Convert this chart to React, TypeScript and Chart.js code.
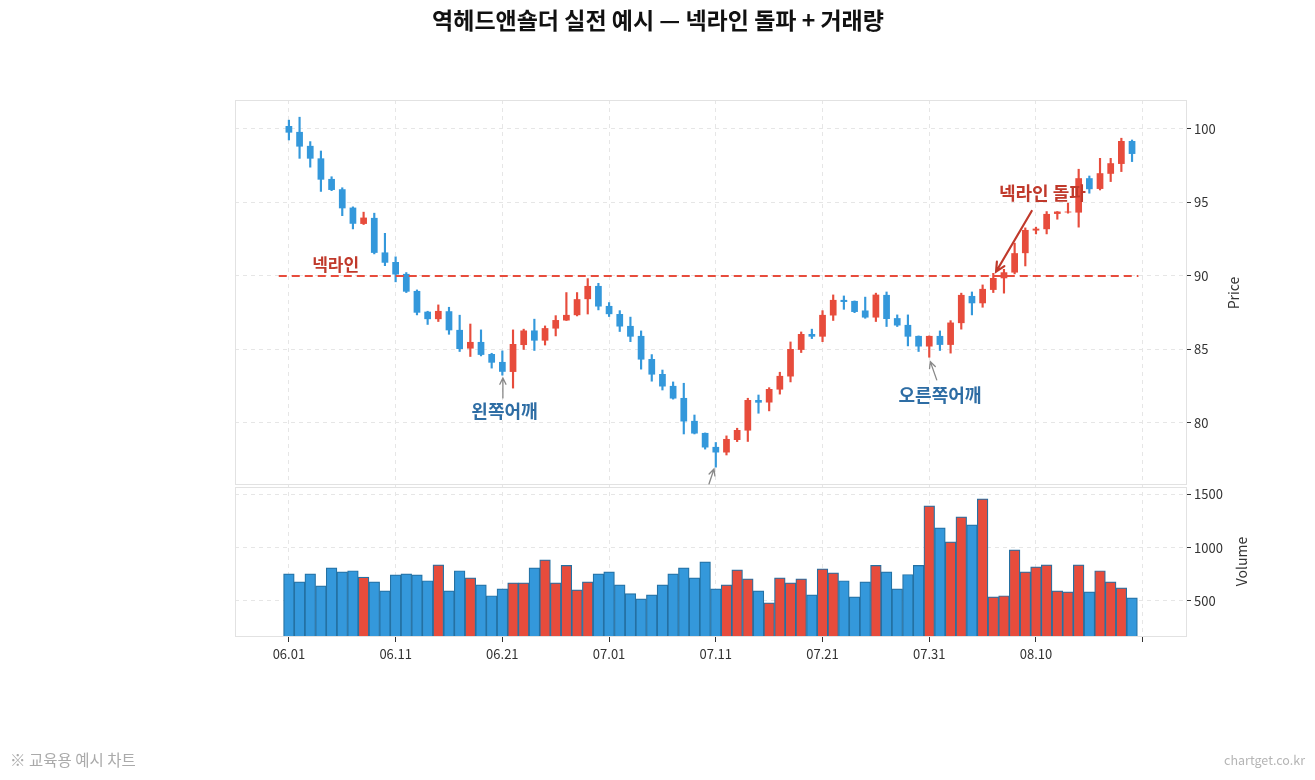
import React, { useEffect, useRef } from 'react';
import { Chart, registerables } from 'chart.js';

Chart.register(...registerables);

// ---------- data ----------
const DATE_TICKS = [0, 10, 20, 30, 40, 50, 60, 70, 80];
const DATE_LABELS = ['06.01', '06.11', '06.21', '07.01', '07.11', '07.21', '07.31', '08.10', ''];

const OPEN = [
  100.2, 99.8, 98.85, 98.0, 96.6, 95.9, 94.65, 93.54, 93.95, 91.6,
  90.95, 90.14, 88.98, 87.57, 87.06, 87.6, 86.33, 85.06, 85.51, 84.69,
  84.15, 83.47, 85.3, 86.29, 85.6, 86.42, 86.97, 87.33, 88.42, 89.32,
  87.96, 87.41, 86.6, 85.92, 84.35, 83.33, 82.52, 81.7, 80.14, 79.32,
  78.37, 77.99, 78.84, 79.48, 81.56, 81.39, 82.27, 83.16, 84.97, 86.05,
  85.87, 87.31, 88.37, 88.3, 87.65, 87.17, 88.71, 87.13, 86.67, 85.92,
  85.2, 85.92, 85.31, 86.79, 88.64, 88.14, 89.05, 89.84, 90.23, 91.55,
  93.09, 93.18, 94.22, 94.32, 94.31, 96.65, 95.92, 96.95, 97.62, 99.18,
];
const HIGH = [
  100.6, 100.8, 99.14, 98.5, 96.75, 96.0, 94.7, 94.34, 94.27, 92.9,
  91.3, 90.23, 89.05, 87.6, 88.03, 87.87, 87.33, 86.73, 86.33, 84.74,
  84.9, 86.33, 86.38, 87.06, 86.6, 87.3, 88.87, 88.87, 89.82, 89.5,
  88.19, 87.64, 87.2, 86.26, 84.65, 83.6, 82.79, 82.7, 80.54, 79.32,
  78.67, 79.12, 79.64, 81.68, 81.9, 82.4, 83.45, 85.51, 86.19, 86.38,
  87.64, 88.71, 88.64, 88.3, 88.56, 88.83, 88.91, 87.35, 87.35, 85.92,
  85.92, 86.26, 86.96, 88.83, 88.91, 89.39, 90.18, 90.45, 92.23, 93.27,
  93.32, 94.38, 94.38, 94.95, 97.26, 96.8, 98.0, 98.0, 99.37, 99.25,
];
const LOW = [
  99.25, 98.0, 97.4, 95.75, 95.8, 94.1, 93.2, 93.5, 91.5, 90.7,
  89.6, 88.87, 87.35, 86.7, 86.9, 86.03, 84.86, 84.52, 84.56, 83.73,
  83.25, 82.37, 85.0, 84.93, 85.3, 85.92, 86.97, 87.28, 87.41, 87.69,
  87.24, 86.22, 85.53, 83.66, 82.84, 82.24, 81.62, 79.25, 79.25, 78.22,
  76.99, 77.82, 78.73, 78.74, 80.66, 80.82, 81.96, 82.79, 84.79, 85.74,
  85.53, 86.97, 87.73, 87.5, 87.12, 86.9, 86.56, 86.56, 85.24, 84.86,
  84.47, 84.93, 84.75, 86.38, 87.35, 87.87, 88.87, 88.83, 90.14, 90.68,
  92.86, 92.86, 93.86, 94.27, 93.32, 95.63, 95.85, 96.42, 97.1, 97.78,
];
const CLOSE = [
  99.75, 98.8, 97.98, 96.55, 95.85, 94.6, 93.55, 93.97, 91.57, 90.9,
  90.1, 88.93, 87.5, 87.06, 87.62, 86.3, 85.03, 85.51, 84.63, 84.1,
  83.48, 85.37, 86.29, 85.6, 86.45, 87.0, 87.35, 88.42, 89.32, 87.92,
  87.4, 86.56, 85.87, 84.31, 83.29, 82.48, 81.66, 80.1, 79.28, 78.33,
  77.99, 78.91, 79.52, 81.56, 81.38, 82.31, 83.2, 85.03, 86.05, 85.87,
  87.35, 88.37, 88.23, 87.55, 87.17, 88.73, 87.07, 86.63, 85.87, 85.2,
  85.92, 85.31, 86.83, 88.71, 88.14, 89.12, 89.86, 90.25, 91.55, 93.13,
  93.22, 94.22, 94.38, 94.38, 96.65, 95.9, 96.99, 97.67, 99.18, 98.3,
];
const VOLUME = [
  754, 679, 754, 641, 811, 773, 783, 723, 679, 594,
  744, 754, 744, 689, 839, 594, 783, 717, 651, 548,
  613, 670, 670, 811, 886, 670, 833, 604, 679, 754,
  773, 651, 569, 519, 557, 651, 754, 811, 717, 867,
  613, 651, 792, 707, 594, 482, 717, 670, 707, 557,
  801, 764, 689, 538, 679, 833, 773, 613, 748, 833,
  1393, 1187, 1055, 1290, 1215, 1459, 538, 548, 980, 773,
  820, 839, 594, 585, 839, 585, 783, 679, 623, 529,
];
const PRICE_TICKS = [80, 85, 90, 95, 100];
const VOLUME_TICKS = [500, 1000, 1500];
const NECKLINE_PRICE = 90;
const NECKLINE_SPAN = [-0.95, 79.6];

// ---------- styles / layout ----------
const UP = '#e74c3c';
const DOWN = '#3498db';
const FONT = "'Noto Sans CJK KR', 'Noto Sans', sans-serif";
const W = 1315;
const H = 780;
const X_RANGE = [-5.05, 84.15];
const PRICE_RANGE = [75.71, 101.97];
const VOLUME_RANGE = [160, 1580];

type Note = {
  text: string; x: number; y: number; color: string; size: number;
  arrow?: { from: [number, number]; to: [number, number]; color: string; width: number };
};
const NOTES: Note[] = [
  { text: '넥라인', x: 4.38, y: 90.75, color: '#c0392b', size: 17 },
  { text: '왼쪽어깨', x: 20.2, y: 80.77, color: '#2e6da4', size: 18,
    arrow: { from: [20.05, 81.7], to: [20.05, 83.06], color: '#888888', width: 1.3 } },
  { text: '오른쪽어깨', x: 61.0, y: 81.9, color: '#2e6da4', size: 18,
    arrow: { from: [60.7, 82.93], to: [60.1, 84.17], color: '#888888', width: 1.3 } },
  { text: '', x: 39.5, y: 75.0, color: '#2e6da4', size: 16,
    arrow: { from: [39.36, 75.85], to: [39.83, 76.87], color: '#888888', width: 1.3 } },
  { text: '넥라인 돌파', x: 70.6, y: 95.63, color: '#c0392b', size: 18,
    arrow: { from: [69.6, 94.42], to: [66.26, 90.29], color: '#c0392b', width: 2.2 } },
];

function drawArrow(ctx: CanvasRenderingContext2D, x1: number, y1: number, x2: number, y2: number, color: string, width: number) {
  const ang = Math.atan2(y2 - y1, x2 - x1);
  const head = width > 2 ? 10 : 7;
  ctx.save();
  ctx.strokeStyle = color;
  ctx.lineWidth = width;
  ctx.lineCap = 'round';
  ctx.beginPath();
  ctx.moveTo(x1, y1);
  ctx.lineTo(x2, y2);
  ctx.moveTo(x2 - head * Math.cos(ang - 0.45), y2 - head * Math.sin(ang - 0.45));
  ctx.lineTo(x2, y2);
  ctx.lineTo(x2 - head * Math.cos(ang + 0.45), y2 - head * Math.sin(ang + 0.45));
  ctx.stroke();
  ctx.restore();
}

const decorPlugin = {
  id: 'decor',
  afterDatasetsDraw(chart: any) {
    const ctx: CanvasRenderingContext2D = chart.ctx;
    const x = chart.scales.x;
    const yP = chart.scales.yP;
    const yV = chart.scales.yV;
    const area = chart.chartArea;
    // panel borders
    ctx.save();
    ctx.strokeStyle = '#e2e2e2';
    ctx.lineWidth = 1;
    ctx.strokeRect(area.left + 0.5, yP.top + 0.5, area.right - area.left - 1, yP.bottom - yP.top - 2);
    ctx.strokeRect(area.left + 0.5, yV.top + 1.5, area.right - area.left - 1, yV.bottom - yV.top - 2);
    ctx.restore();
    // annotations (clipped to price panel)
    ctx.save();
    ctx.beginPath();
    ctx.rect(area.left, yP.top, area.right - area.left, yP.bottom - yP.top - 1);
    ctx.clip();
    for (const n of NOTES) {
      if (n.arrow) {
        drawArrow(ctx,
          x.getPixelForValue(n.arrow.from[0]), yP.getPixelForValue(n.arrow.from[1]),
          x.getPixelForValue(n.arrow.to[0]), yP.getPixelForValue(n.arrow.to[1]),
          n.arrow.color, n.arrow.width);
      }
      if (n.text) {
        ctx.font = `bold ${n.size}px ${FONT}`;
        ctx.fillStyle = n.color;
        ctx.textAlign = 'center';
        ctx.textBaseline = 'middle';
        ctx.fillText(n.text, x.getPixelForValue(n.x), yP.getPixelForValue(n.y));
      }
    }
    ctx.restore();
  },
  afterDraw(chart: any) {
    const ctx: CanvasRenderingContext2D = chart.ctx;
    const yP = chart.scales.yP;
    const yV = chart.scales.yV;
    ctx.save();
    // title
    ctx.font = `bold 23px ${FONT}`;
    ctx.fillStyle = '#111111';
    ctx.textAlign = 'center';
    ctx.textBaseline = 'middle';
    ctx.fillText('역헤드앤숄더 실전 예시 — 넥라인 돌파 + 거래량', 658, 20);
    // axis titles
    ctx.font = `14px ${FONT}`;
    ctx.fillStyle = '#333333';
    ctx.save();
    ctx.translate(1234, (yP.top + yP.bottom) / 2);
    ctx.rotate(-Math.PI / 2);
    ctx.fillText('Price', 0, 0);
    ctx.restore();
    ctx.save();
    ctx.translate(1242, (yV.top + yV.bottom) / 2);
    ctx.rotate(-Math.PI / 2);
    ctx.fillText('Volume', 0, 0);
    ctx.restore();
    // footer
    ctx.font = `15.5px ${FONT}`;
    ctx.fillStyle = '#aaaaaa';
    ctx.textAlign = 'left';
    ctx.fillText('※ 교육용 예시 차트', 10, 760);
    ctx.font = `12.5px ${FONT}`;
    ctx.fillStyle = '#b5b5b5';
    ctx.textAlign = 'right';
    ctx.fillText('chartget.co.kr', 1305, 760);
    ctx.restore();
  },
};

export default function App() {
  const ref = useRef<HTMLCanvasElement | null>(null);

  useEffect(() => {
    if (!ref.current) return;
    const idx = OPEN.map((_, i) => i);
    const colors = idx.map((i) => (CLOSE[i] >= OPEN[i] ? UP : DOWN));
    const gridColor = '#e6e6e6';
    const tickFont = { family: FONT, size: 13 };

    const chart = new Chart(ref.current, {
      type: 'bar',
      data: {
        datasets: [
          {
            type: 'line',
            label: 'neckline',
            data: [
              { x: NECKLINE_SPAN[0], y: NECKLINE_PRICE },
              { x: NECKLINE_SPAN[1], y: NECKLINE_PRICE },
            ],
            borderColor: '#e74c3c',
            borderWidth: 2,
            borderDash: [8, 5],
            pointRadius: 0,
            xAxisID: 'x',
            yAxisID: 'yP',
            order: 1,
          } as any,
          {
            type: 'bar',
            label: 'wick',
            data: idx.map((i) => ({ x: i, y: [LOW[i], HIGH[i]] })),
            backgroundColor: colors,
            borderWidth: 0,
            barThickness: 1.5,
            grouped: false,
            xAxisID: 'x',
            yAxisID: 'yP',
            order: 3,
          } as any,
          {
            type: 'bar',
            label: 'body',
            data: idx.map((i) => ({ x: i, y: [OPEN[i], CLOSE[i]] })),
            backgroundColor: colors,
            borderWidth: 0,
            barPercentage: 0.63,
            categoryPercentage: 1,
            grouped: false,
            xAxisID: 'x',
            yAxisID: 'yP',
            order: 2,
          } as any,
          {
            type: 'bar',
            label: 'volume',
            data: idx.map((i) => ({ x: i, y: VOLUME[i] })),
            backgroundColor: colors,
            borderColor: '#2471a3',
            borderWidth: 1.2,
            borderSkipped: false,
            barPercentage: 1,
            categoryPercentage: 1,
            grouped: false,
            base: VOLUME_RANGE[0],
            clip: 0,
            xAxisID: 'x',
            yAxisID: 'yV',
            order: 4,
          } as any,
        ],
      },
      options: {
        responsive: false,
        animation: false,
        events: [],
        layout: { padding: { left: 235, right: 0, top: 100, bottom: 0 } },
        plugins: {
          legend: { display: false },
          tooltip: { enabled: false },
          title: { display: false },
        },
        scales: {
          x: {
            type: 'linear',
            position: 'bottom',
            min: X_RANGE[0],
            max: X_RANGE[1],
            offset: false,
            afterBuildTicks: (s: any) => { s.ticks = DATE_TICKS.map((v) => ({ value: v })); },
            afterFit: (s: any) => { s.height = H - 637; },
            ticks: {
              autoSkip: false,
              maxRotation: 0,
              minRotation: 0,
              padding: 4,
              color: '#333333',
              font: tickFont,
              callback: (v: any) => DATE_LABELS[DATE_TICKS.indexOf(Number(v))] ?? '',
            },
            grid: {
              color: gridColor,
              lineWidth: 1,
              offset: false,
              drawTicks: true,
              tickLength: 5,
              tickColor: '#333333',
              tickWidth: 1,
              tickBorderDash: [],
            },
            border: { display: false, dash: [4, 4] },
          },
          yP: {
            type: 'linear',
            position: 'right',
            stack: 'panels',
            stackWeight: 386,
            min: PRICE_RANGE[0],
            max: PRICE_RANGE[1],
            afterBuildTicks: (s: any) => { s.ticks = PRICE_TICKS.map((v) => ({ value: v })); },
            afterFit: (s: any) => { s.width = W - 1187; },
            ticks: { padding: 3, color: '#333333', font: tickFont, callback: (v: any) => String(v) },
            grid: {
              color: gridColor,
              tickLength: 4,
              tickColor: '#333333',
              tickBorderDash: [],
            },
            border: { display: false, dash: [4, 4] },
          },
          yV: {
            type: 'linear',
            position: 'right',
            stack: 'panels',
            stackWeight: 151,
            min: VOLUME_RANGE[0],
            max: VOLUME_RANGE[1],
            afterBuildTicks: (s: any) => { s.ticks = VOLUME_TICKS.map((v) => ({ value: v })); },
            afterFit: (s: any) => { s.width = W - 1187; },
            ticks: { padding: 3, color: '#333333', font: tickFont, callback: (v: any) => String(v) },
            grid: {
              color: gridColor,
              tickLength: 4,
              tickColor: '#333333',
              tickBorderDash: [],
            },
            border: { display: false, dash: [4, 4] },
          },
        },
      } as any,
      plugins: [decorPlugin],
    });
    return () => chart.destroy();
  }, []);

  return (
    <div style={{ position: 'absolute', left: 0, top: 0, width: W, height: H, background: '#ffffff' }}>
      <canvas ref={ref} width={W} height={H} style={{ display: 'block', width: W, height: H }} />
    </div>
  );
}
